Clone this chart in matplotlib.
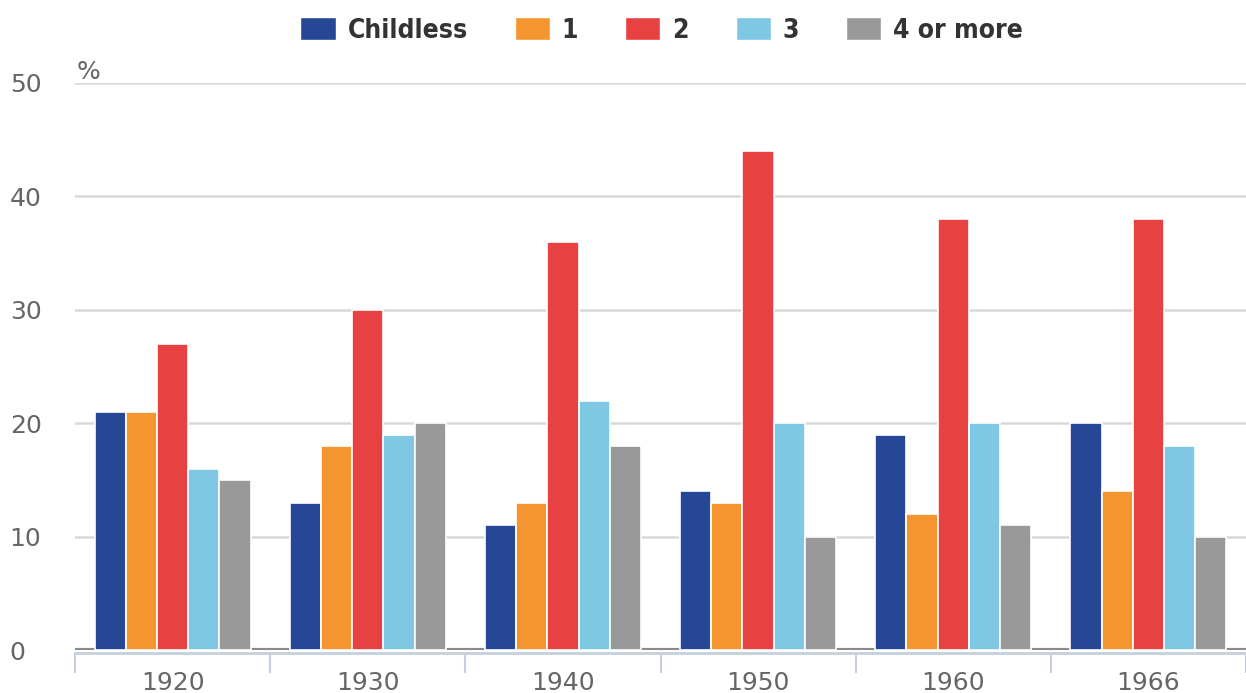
import numpy as np
import matplotlib.pyplot as plt
from matplotlib.patches import Patch

plt.rcParams["font.family"] = ["DejaVu Sans"]

years = ["1920", "1930", "1940", "1950", "1960", "1966"]
series = ["Childless", "1", "2", "3", "4 or more"]
childless = [21, 13, 11, 14, 19, 20]
one = [21, 18, 13, 13, 12, 14]
two = [27, 30, 36, 44, 38, 38]
three = [16, 19, 22, 20, 20, 18]
four_plus = [15, 20, 18, 10, 11, 10]
values = [childless, one, two, three, four_plus]
colors = ["#264796", "#F4952F", "#E84142", "#7EC8E3", "#999999"]

fig = plt.figure(figsize=(12.46, 6.93), dpi=100)
ax = fig.add_axes([75/1246, 1 - 650/693, 1171/1246, 567/693])

x = np.arange(len(years))
w = 0.16
for i, (vals, c) in enumerate(zip(values, colors)):
    ax.bar(x + (i - 2) * w, vals, width=w, color=c, edgecolor="white",
           linewidth=1.2, zorder=3)

ax.set_xlim(-0.5, len(years) - 0.5)
ax.set_ylim(0, 50)
ax.set_yticks(range(0, 51, 10))
ax.yaxis.grid(True, color="#d9d9d9", linewidth=1.8, zorder=0)
ax.set_axisbelow(True)
ax.axhline(0, color="#8a8a8a", linewidth=3, zorder=2)

for s in ["top", "right", "left"]:
    ax.spines[s].set_visible(False)
ax.spines["bottom"].set_color("#c5d0dd")
ax.spines["bottom"].set_linewidth(2)
ax.spines["bottom"].set_position(("outward", 2))

# group boundaries as major ticks, year labels on minor ticks
ax.set_xticks(np.arange(-0.5, len(years), 1.0))
ax.set_xticklabels([])
ax.set_xticks(x, minor=True)
ax.set_xticklabels(years, minor=True)
ax.tick_params(axis="x", which="major", length=14.5, width=1.5, color="#c5d0dd")
ax.tick_params(axis="x", which="minor", length=0, pad=13, labelsize=18,
               labelcolor="#666666")
ax.tick_params(axis="y", length=0, pad=47, labelsize=18, labelcolor="#666666")
for lab in ax.get_yticklabels():
    lab.set_horizontalalignment("left")

ax.text(0.001, 0.999, "%", transform=ax.transAxes, fontsize=18,
        color="#666666", ha="left", va="bottom")

handles = [Patch(facecolor=c, edgecolor="white", label=s)
           for s, c in zip(series, colors)]
leg = fig.legend(handles=handles, loc="upper center", ncol=5,
                 bbox_to_anchor=(0.531, 1.01), frameon=False,
                 prop={"family": "DejaVu Sans", "weight": "bold",
                       "stretch": "condensed", "size": 19},
                 handlelength=1.33, handleheight=1.0, handletextpad=0.45,
                 columnspacing=1.78, labelcolor="#333333")

fig.savefig("out.png", dpi=100)
